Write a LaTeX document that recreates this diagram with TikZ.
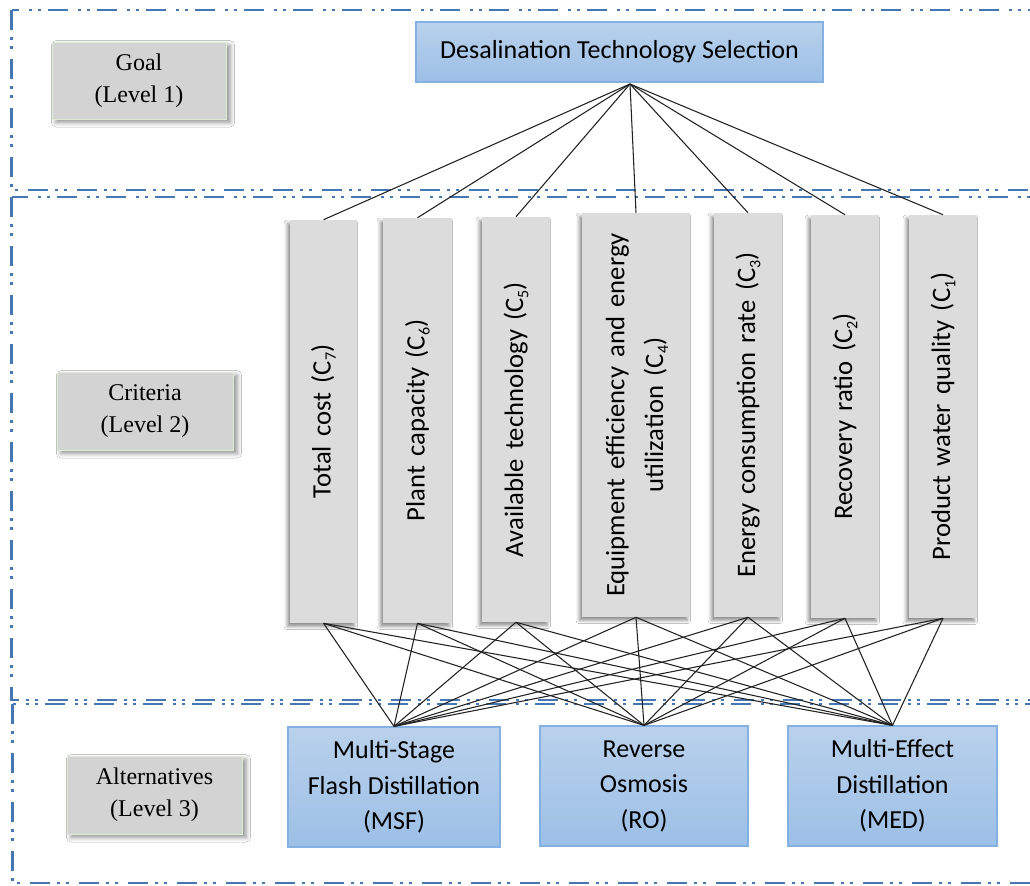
\documentclass[tikz,border=0pt]{standalone}
\usepackage{fontspec}
\setmainfont{Liberation Serif}
\newfontfamily\calibrifont{Carlito}
\usetikzlibrary{shadows.blur}
\usepackage{graphicx}

\definecolor{framecol}{HTML}{4677B2}
\definecolor{levelgray}{HTML}{D4D3D4}
\definecolor{levelrim}{HTML}{DCEBD3}
\definecolor{critgray}{HTML}{DCDCDC}
\definecolor{bluetop}{HTML}{B9D1EC}
\definecolor{bluebot}{HTML}{9CBFE6}
\definecolor{bluerim}{HTML}{84B1E2}
\definecolor{linkcol}{HTML}{222222}

% wide word gap used in the criteria labels
\newcommand\wsp{\hspace{0.35em}}
% small lowered index of a criterion
\newcommand\csub[1]{\raisebox{-0.4ex}{\fontsize{12}{12}\selectfont #1}}

\begin{document}
\begin{tikzpicture}[x=0.75pt,y=-0.75pt,
  frame/.style={draw=framecol, line width=1.9pt,
    dash pattern=on 15pt off 5.25pt on 2.25pt off 4.5pt on 2.25pt off 7.5pt},
  levelbox/.style={fill=levelgray, draw=levelrim, line width=0.6pt, inner sep=0pt,
    align=center, font=\fontsize{18}{24}\selectfont,
    blur shadow={shadow xshift=3pt, shadow yshift=-2.5pt, shadow blur radius=3.5pt,
      shadow opacity=45}},
  critbox/.style={fill=critgray, inner sep=0pt,
    font=\calibrifont\fontsize{20}{29}\selectfont,
    blur shadow={shadow xshift=-2pt, shadow yshift=-2.5pt, shadow blur radius=2.5pt,
      shadow opacity=45}},
  bluebox/.style={top color=bluetop, bottom color=bluebot, draw=bluerim,
    line width=0.9pt, inner sep=0pt, align=center,
    font=\calibrifont\fontsize{19.5}{26.6}\selectfont},
  link/.style={draw=linkcol, line width=0.8pt}
]
\clip (0,0) rectangle (1030,885);
\fill[white] (0,0) rectangle (1030,885);

% level frames (their right sides run off the page)
\draw[frame] (11.5,10) rectangle (1060,190);
\draw[frame] (11.5,197) rectangle (1060,700);
\draw[frame] (12.5,704) rectangle (1060,883);

% level labels
\node[levelbox, minimum width=130.5pt, minimum height=57.75pt] (lv1) at (139,80.5) {Goal\\(Level 1)};
\node[levelbox, minimum width=132pt, minimum height=58.5pt] (lv2) at (145,411) {Criteria\\(Level 2)};
\node[levelbox, minimum width=131.25pt, minimum height=58.5pt] (lv3) at (154.5,795) {Alternatives\\(Level 3)};

% goal
\node[bluebox, minimum width=305.25pt, minimum height=45pt] (goal) at (619.5,52)
  {Desalination Technology Selection};
\coordinate (apex) at (630,84);

% criteria
\node[critbox, minimum width=50.25pt, minimum height=302.25pt] (c7) at (323.5,421.5)
  {\rotatebox{90}{Total\wsp cost\wsp (C\csub{7})}};
\node[critbox, minimum width=51.75pt, minimum height=303.75pt] (c6) at (417.5,420.5)
  {\rotatebox{90}{Plant\wsp capacity\wsp (C\csub{6})}};
\node[critbox, minimum width=51pt, minimum height=303.75pt] (c5) at (516,419.5)
  {\rotatebox{90}{Available\wsp technology\wsp (C\csub{5})}};
\node[critbox, minimum width=81pt, minimum height=303pt] (c4) at (636,415)
  {\rotatebox{90}{\begin{tabular}{@{}c@{}}Equipment\wsp efficiency\wsp and\wsp energy\\utilization\wsp (C\csub{4})\end{tabular}}};
\node[critbox, minimum width=51pt, minimum height=303pt] (c3) at (748,415)
  {\rotatebox{90}{Energy\wsp consumption\wsp rate\wsp (C\csub{3})}};
\node[critbox, minimum width=51pt, minimum height=302.25pt] (c2) at (845,416.5)
  {\rotatebox{90}{Recovery\wsp ratio\wsp (C\csub{2})}};
\node[critbox, minimum width=51pt, minimum height=302.25pt] (c1) at (943,416.5)
  {\rotatebox{90}{Product\wsp water\wsp quality\wsp (C\csub{1})}};

% alternatives
\node[bluebox, minimum width=159pt, minimum height=90pt] (msf) at (394,787)
  {Multi-Stage\\Flash Distillation\\(MSF)};
\node[bluebox, minimum width=156pt, minimum height=90pt] (ro) at (644,786)
  {Reverse\\Osmosis\\(RO)};
\node[bluebox, minimum width=156.75pt, minimum height=90pt] (med) at (892.5,786)
  {Multi-Effect\\Distillation\\(MED)};

% goal to criteria
\foreach \c in {c1,c2,c3,c4,c5,c6,c7}
  \draw[link] (apex) -- (\c.north);

% criteria to alternatives
\foreach \c in {c1,c2,c3,c4,c5,c6,c7}
  \foreach \a in {msf,ro,med}
    \draw[link] (\c.south) -- (\a.north);
\end{tikzpicture}
\end{document}
